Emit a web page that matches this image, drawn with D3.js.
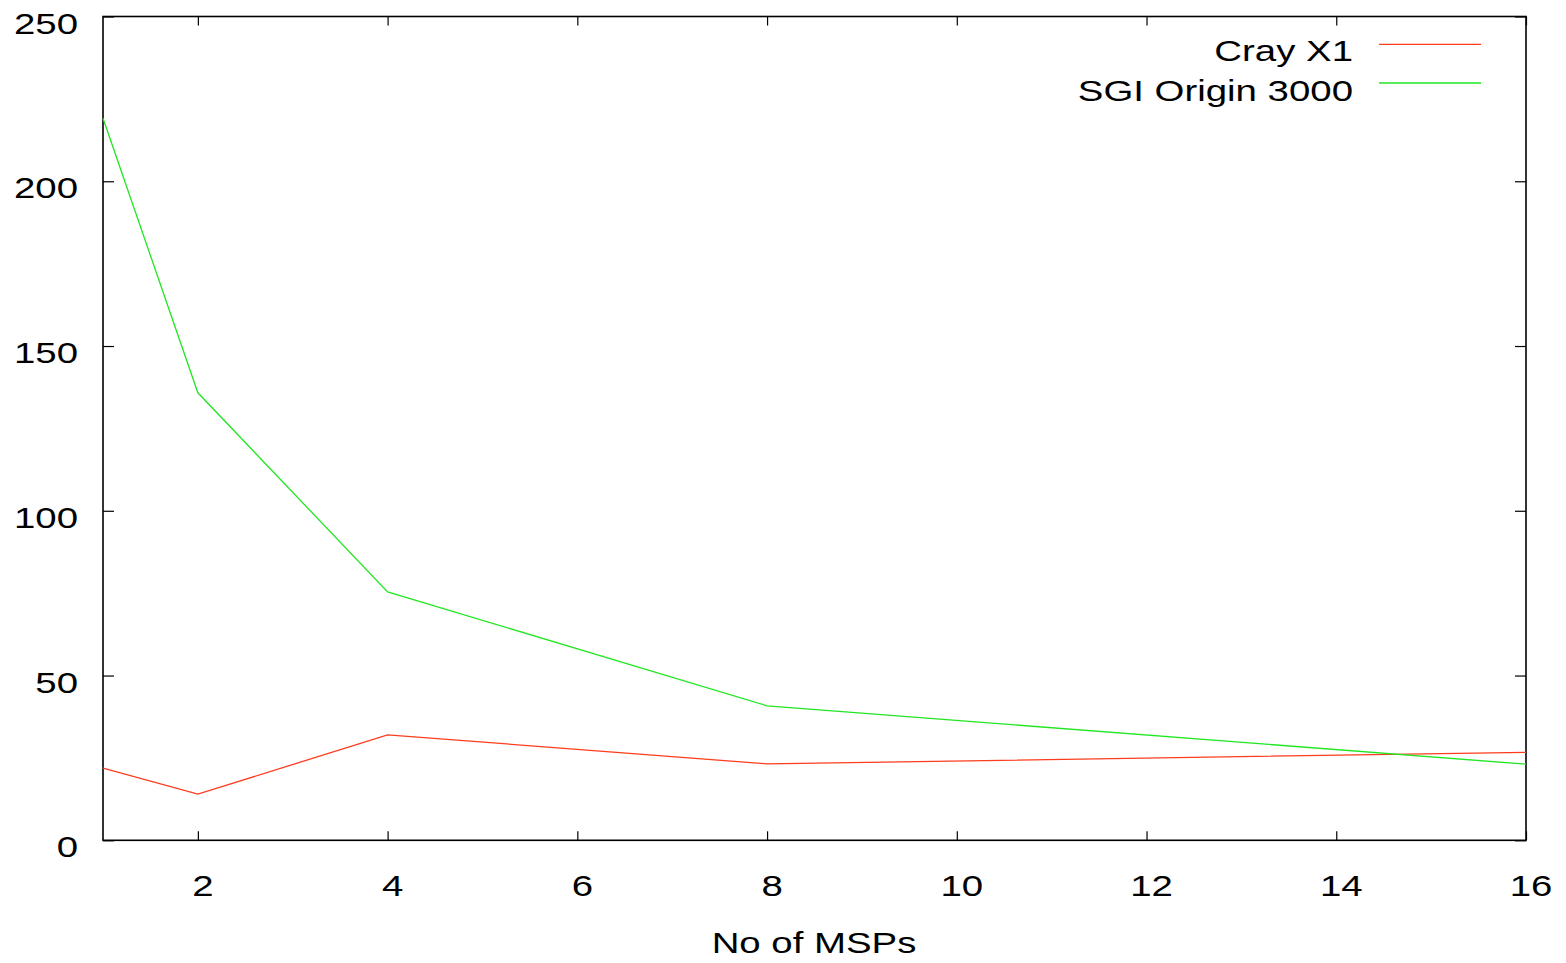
<!DOCTYPE html>
<html>
<head>
<meta charset="utf-8">
<script src="https://cdn.jsdelivr.net/npm/d3@7"></script>
<style>
  html, body { margin: 0; padding: 0; background: #fff; }
  svg { display: block; }
  text { font-family: "Liberation Sans", Arial, sans-serif; fill: #000; }
</style>
</head>
<body>
<svg id="chart" width="1566" height="963"></svg>
<script>
// ---- data ----
const msps = [1, 2, 4, 8, 16];
const crayX1 = [21.9, 14.0, 32.0, 23.2, 26.7];
const sgiOrigin = [219.1, 135.8, 75.4, 40.8, 23.1];
const seriesNames = ["Cray X1", "SGI Origin 3000"];
const seriesColors = ["#ff3c1e", "#22e622"];
const xTicks = [2, 4, 6, 8, 10, 12, 14, 16];
const yTicks = [0, 50, 100, 150, 200, 250];
const xLabel = "No of MSPs";

// ---- layout ----
const plotLeft = 103, plotRight = 1526, plotTop = 16.5, plotBottom = 840.3;
const fontSize = 30, stretch = 1.28;

const svg = d3.select("#chart");
const x = d3.scaleLinear().domain([1, 16]).range([plotLeft, plotRight]);
const y = d3.scaleLinear().domain([0, 250]).range([plotBottom, plotTop]);

// ticks (inward, mirrored)
const axisStyle = g => {
  g.select(".domain").remove();
  g.selectAll(".tick line").attr("stroke", "#000").attr("stroke-width", 1.2);
  g.selectAll(".tick text").remove();
};
svg.append("g").attr("transform", `translate(0,${plotBottom})`)
  .call(d3.axisBottom(x).tickValues(xTicks).tickSize(-9)).call(axisStyle);
svg.append("g").attr("transform", `translate(0,${plotTop})`)
  .call(d3.axisTop(x).tickValues(xTicks).tickSize(-9)).call(axisStyle);
svg.append("g").attr("transform", `translate(${plotLeft},0)`)
  .call(d3.axisLeft(y).tickValues(yTicks).tickSize(-11)).call(axisStyle);
svg.append("g").attr("transform", `translate(${plotRight},0)`)
  .call(d3.axisRight(y).tickValues(yTicks).tickSize(-11)).call(axisStyle);

// frame
svg.append("rect").attr("x", plotLeft).attr("y", plotTop)
  .attr("width", plotRight - plotLeft).attr("height", plotBottom - plotTop)
  .attr("fill", "none").attr("stroke", "#000").attr("stroke-width", 1.6);

// tick labels
function stretchedText(tx, ty, str, anchor) {
  svg.append("text")
    .attr("transform", `translate(${tx},${ty}) scale(${stretch},1)`)
    .attr("text-anchor", anchor)
    .attr("font-size", fontSize)
    .text(str);
}
yTicks.forEach(v => stretchedText(78, y(v) + 17, String(v), "end"));
xTicks.forEach(v => stretchedText(x(v) + 5, 896, String(v), "middle"));
stretchedText(814, 953, xLabel, "middle");

// lines
const line = d3.line().x((d, i) => x(msps[i])).y(d => y(d));
[crayX1, sgiOrigin].forEach((s, k) => {
  svg.append("path").datum(s).attr("d", line)
    .attr("fill", "none").attr("stroke", seriesColors[k]).attr("stroke-width", 1.3);
});

// legend
const legendRows = [{ base: 61, ly: 44.3 }, { base: 100.5, ly: 83 }];
seriesNames.forEach((name, k) => {
  stretchedText(1353, legendRows[k].base, name, "end");
  svg.append("line").attr("x1", 1379).attr("x2", 1481)
    .attr("y1", legendRows[k].ly).attr("y2", legendRows[k].ly)
    .attr("stroke", seriesColors[k]).attr("stroke-width", 1.3);
});
</script>
</body>
</html>
